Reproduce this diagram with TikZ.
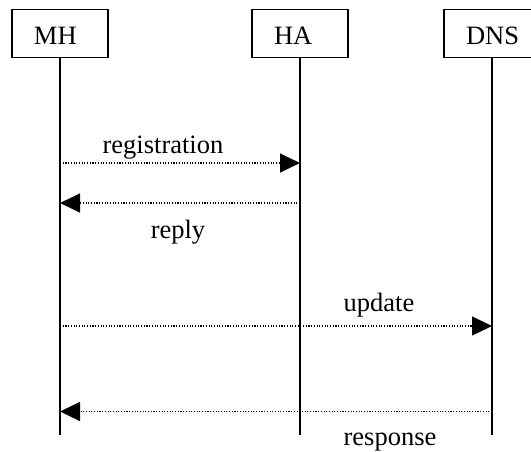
\documentclass[tikz,border=0pt]{standalone}
\usepackage{fontspec}
\setmainfont{Liberation Serif}
\usetikzlibrary{arrows.meta}
\begin{document}
\begin{tikzpicture}[x=1pt,y=-1pt,
  every node/.style={font=\fontsize{26.5}{31}\selectfont},
  actor/.style={draw,line width=1.4pt,rectangle,minimum width=96pt,minimum height=48pt,
    inner xsep=22pt,text width=52pt,align=left,text height=24pt,text depth=3pt},
  lifeline/.style={line width=1.4pt},
  msg/.style={line width=1.2pt,dash pattern=on 1.1pt off 1.6pt,
    -{Triangle[length=20pt,width=19pt]}},
  msglabel/.style={anchor=base,inner sep=0pt}]
\useasboundingbox (0,0) rectangle (531,451);

% participants
\node[actor] (mh)  at (60,33.5)  {MH};
\node[actor] (ha)  at (300,33.5) {HA};
\node[actor] (dns) at (492,33.5) {DNS};

% lifeline ends
\coordinate (mhEnd)  at (60,435);
\coordinate (haEnd)  at (300,435);
\coordinate (dnsEnd) at (492,435);
\draw[lifeline] (mh.south)  -- (mhEnd);
\draw[lifeline] (ha.south)  -- (haEnd);
\draw[lifeline] (dns.south) -- (dnsEnd);

% message end points on the lifelines
\coordinate (mhA)  at (60,163);
\coordinate (haA)  at (300,163);
\coordinate (mhB)  at (60,203);
\coordinate (haB)  at (300,203);
\coordinate (mhC)  at (60,326);
\coordinate (dnsC) at (492,326);
\coordinate (mhD)  at (60,411.5);
\coordinate (dnsD) at (492,411.5);

% messages
\draw[msg] (mhA) -- (haA);
\draw[msg] (haB) -- (mhB);
\draw[msg] (mhC) -- (dnsC);
\draw[msg] (dnsD) -- (mhD);

% message labels
\node[msglabel] (l1) at (163,153) {registration};
\node[msglabel] (l2) at (178,238) {reply};
\node[msglabel] (l3) at (379,311) {update};
\node[msglabel] (l4) at (390,445) {response};
\end{tikzpicture}
\end{document}
